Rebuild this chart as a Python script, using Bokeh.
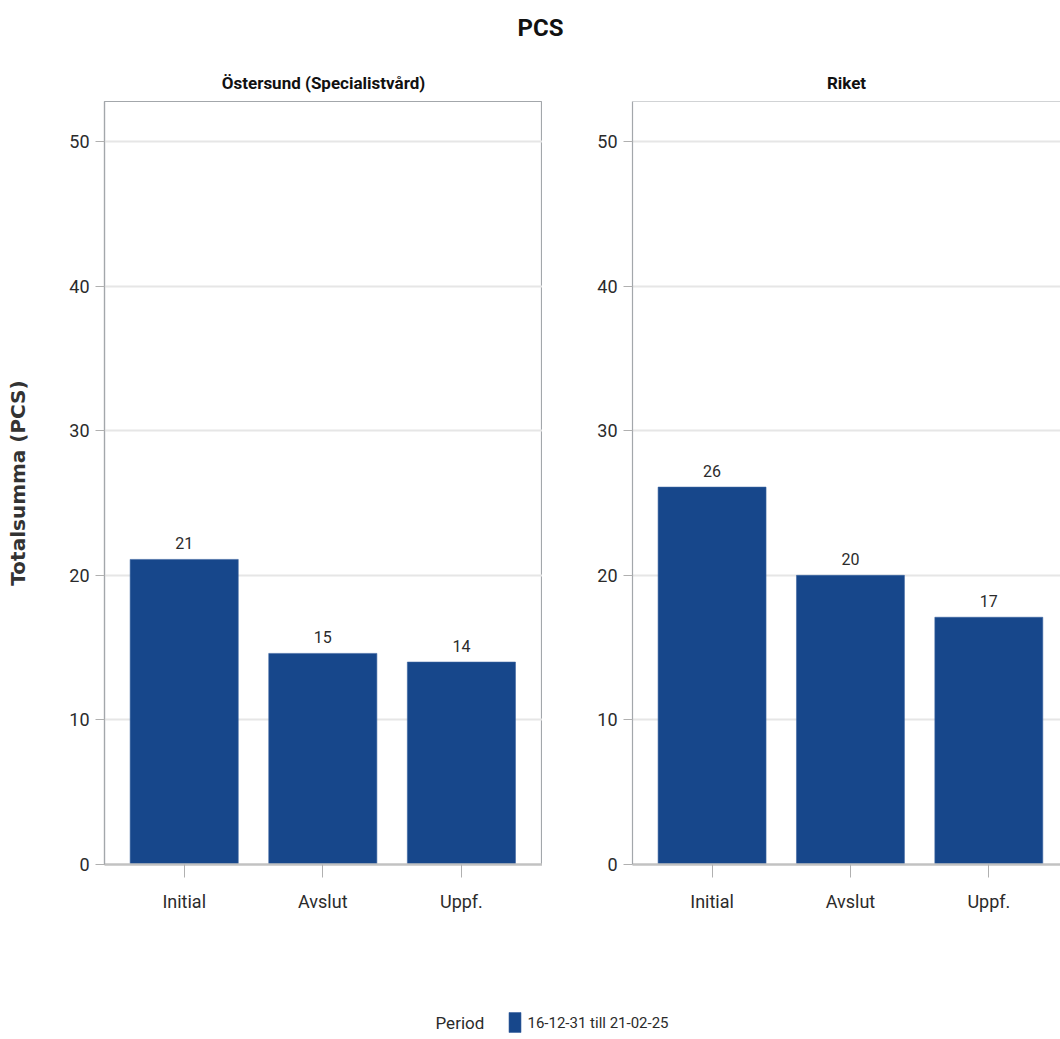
from bokeh.plotting import figure
from bokeh.models import ColumnDataSource, Range1d, FixedTicker, Span
from bokeh.layouts import column, row
from bokeh.core.properties import value
from bokeh.embed import file_html
from bokeh.resources import INLINE

# ---- data -------------------------------------------------------------
chart_title = "PCS"
periods = ["Initial", "Avslut", "Uppf."]
panel_names = ["Östersund (Specialistvård)", "Riket"]
ostersund = [21.1, 14.6, 14.0]
riket = [26.1, 20.0, 17.1]
period_label = "16-12-31 till 21-02-25"
legend_title = "Period"
y_label = "Totalsumma (PCS)"
y_ticks = [0, 10, 20, 30, 40, 50]

# ---- style ------------------------------------------------------------
FONT = "Roboto"
BAR = "#17478b"
FRAME = "#a3a7ab"
GRID = "#e6e6e6"
TEXT = "#2b2b2b"
Y_MAX = 52.77
FRAME_H = 763
TOTAL_W = 1060
HEADER_H = 56
FOOTER_H = 114


def make_panel(name, values, left_border, frame_w, x_end, with_label):
    p = figure(frame_width=frame_w, frame_height=FRAME_H,
               x_range=Range1d(-0.575, x_end), y_range=Range1d(0, Y_MAX),
               title=name, output_backend="svg", toolbar_location=None,
               min_border_left=left_border, min_border_right=0,
               min_border_top=45, min_border_bottom=60)
    p.background_fill_color = "white"
    p.border_fill_color = "white"

    idx = list(range(len(periods)))
    src = ColumnDataSource(dict(
        x=idx, top=values, period=periods,
        label=["{:.0f}".format(v) for v in values]))
    p.vbar(x="x", top="top", width=0.78, source=src,
           fill_color=BAR, line_color="#3a63a0", line_width=0.6)
    p.text(x="x", y="top", text="label", source=src,
           text_font=value(FONT), text_font_size="16px",
           text_color=TEXT, text_align="center",
           text_baseline="alphabetic", y_offset=-16)

    # title above each panel
    p.title.align = "center"
    p.title.text_font = FONT
    p.title.text_font_style = "bold"
    p.title.text_font_size = "17px"
    p.title.text_color = "#111111"
    p.title.standoff = 18

    # x axis: period names at integer positions
    xa = p.xaxis[0]
    xa.ticker = FixedTicker(ticks=idx)
    xa.major_label_overrides = {i: s for i, s in enumerate(periods)}
    xa.major_label_text_font = FONT
    xa.major_label_text_font_size = "18px"
    xa.major_label_text_color = TEXT
    xa.major_label_standoff = 13
    xa.major_tick_out = 13
    xa.major_tick_in = 0
    xa.major_tick_line_color = "#b0b0b0"
    xa.minor_tick_line_color = None
    xa.axis_line_color = "#c2c2c2"
    xa.axis_line_width = 2.5

    ya = p.yaxis[0]
    ya.ticker = FixedTicker(ticks=y_ticks)
    ya.major_label_text_font = FONT
    ya.major_label_text_font_size = "18px"
    ya.major_label_text_color = TEXT
    ya.major_label_standoff = 6
    ya.major_tick_out = 9
    ya.major_tick_in = 0
    ya.major_tick_line_color = "#b0b0b0"
    ya.minor_tick_line_color = None
    ya.axis_line_color = FRAME
    ya.axis_line_width = 1.2
    if with_label:
        ya.axis_label = y_label
        ya.axis_label_text_font = "DejaVu Sans"
        ya.axis_label_text_font_style = "bold"
        ya.axis_label_text_font_size = "20px"
        ya.axis_label_text_color = "#333333"
        ya.axis_label_standoff = 36

    p.xgrid.visible = False
    p.ygrid.grid_line_color = GRID
    p.ygrid.grid_line_width = 2
    return p


p1 = make_panel(panel_names[0], ostersund, 104, 438, 2.585, True)
p1.outline_line_color = FRAME
p1.outline_line_width = 1.2

p2 = make_panel(panel_names[1], riket, 90, 428, 2.518, False)
p2.outline_line_color = None
p2.add_layout(Span(location=Y_MAX, dimension="width",
                   line_color=FRAME, line_width=1.2))


def blank_strip(height):
    s = figure(width=TOTAL_W, height=height, title=None,
               x_range=Range1d(0, TOTAL_W), y_range=Range1d(0, height),
               x_axis_location=None, y_axis_location=None,
               output_backend="svg", toolbar_location=None, min_border=0)
    s.grid.visible = False
    s.outline_line_color = None
    return s


# ---- header with the chart title ---------------------------------------
header = blank_strip(HEADER_H)
header.text(x=[540], y=[29], text=[chart_title],
            text_font=value(FONT), text_font_style="bold",
            text_font_size="24px", text_color="#111111",
            text_align="center", text_baseline="alphabetic")

# ---- footer with the legend ------------------------------------------
footer = blank_strip(FOOTER_H)
footer.text(x=[435], y=[16], text=[legend_title],
            text_font=value(FONT), text_font_size="17px",
            text_color=TEXT, text_align="left", text_baseline="middle")
footer.rect(x=[514.5], y=[16], width=12, height=20,
            fill_color=BAR, line_color="#3a63a0", line_width=0.6)
footer.text(x=[527], y=[16], text=[period_label],
            text_font=value(FONT), text_font_size="15px",
            text_color=TEXT, text_align="left", text_baseline="middle")

layout = column(header, row(p1, p2), footer)

with open("out.html", "w") as f:
    f.write(file_html(layout, INLINE, title=chart_title))
